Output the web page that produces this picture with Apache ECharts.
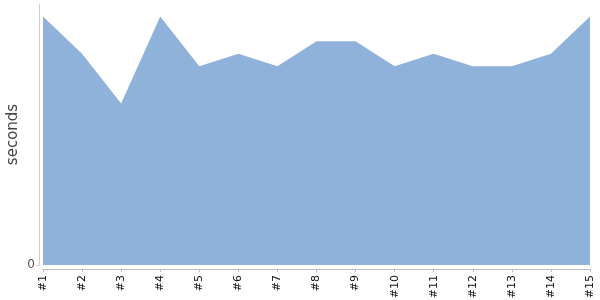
<!DOCTYPE html>
<html><head><meta charset="utf-8">
<script src="https://cdn.jsdelivr.net/npm/echarts@6/dist/echarts.min.js"></script>
<style>html,body{margin:0;padding:0;background:#fff}#c{width:600px;height:300px}</style>
</head><body><div id="c"></div>
<script>
const categories = ['#1','#2','#3','#4','#5','#6','#7','#8','#9','#10','#11','#12','#13','#14','#15'];
const seconds = [20,17,13,20,16,17,16,18,18,16,17,16,16,17,20];
const yTicks = [0];
const chart = echarts.init(document.getElementById('c'), null, {renderer:'canvas'});
chart.setOption({
  animation:false,
  grid:{left:43,right:10,top:4,bottom:35,containLabel:false,outerBoundsMode:'none'},
  xAxis:{type:'category',data:categories,boundaryGap:false,offset:4,
    axisLine:{onZero:false,lineStyle:{color:'#bbb'}},
    axisTick:{alignWithLabel:true,length:3,lineStyle:{color:'#bbb'}},
    axisLabel:{rotate:90,color:'#111',fontSize:11,fontFamily:'DejaVu Sans',margin:6,interval:0}},
  yAxis:{type:'value',min:0,max:21,interval:21,offset:4,name:'seconds',nameLocation:'middle',nameGap:18,nameMoveOverlap:false,
    nameTextStyle:{color:'#444',fontSize:15,fontFamily:'DejaVu Sans'},
    axisLine:{show:true,onZero:false,lineStyle:{color:'#ccc'}},
    axisTick:{show:true,length:3,customValues:yTicks,lineStyle:{color:'#ccc'}},
    splitLine:{show:false},
    axisLabel:{color:'#555',fontSize:12,fontFamily:'DejaVu Sans',margin:4,customValues:yTicks}},
  series:[{type:'line',data:seconds,symbol:'none',lineStyle:{width:0},
    areaStyle:{color:'#8fb2db',opacity:1}}]
});
</script></body></html>
